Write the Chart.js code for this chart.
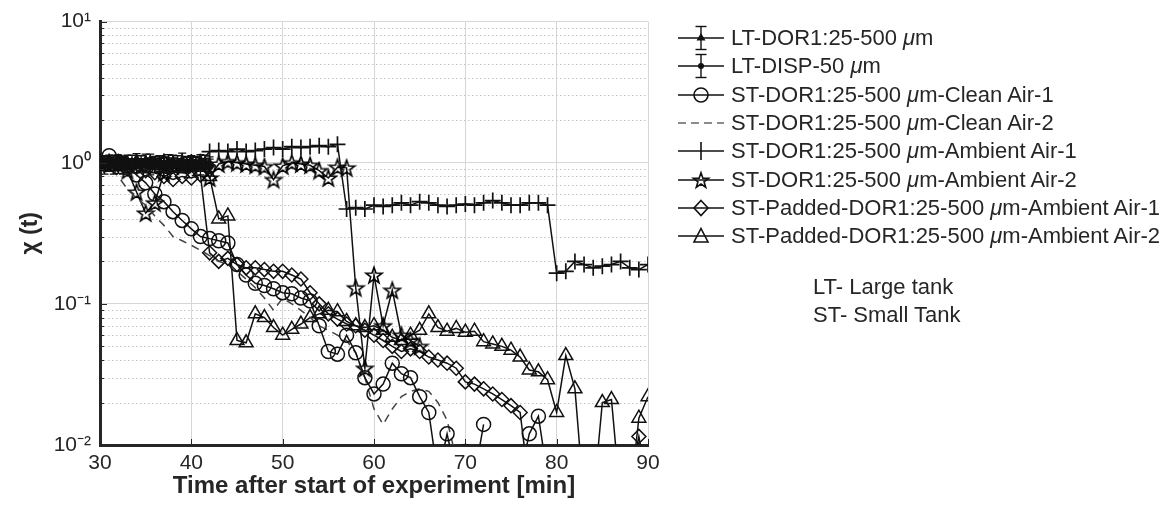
<!DOCTYPE html>
<html><head><meta charset="utf-8">
<script src="https://cdn.jsdelivr.net/npm/chart.js@4.4.0/dist/chart.umd.min.js"></script>
<style>
html,body{margin:0;padding:0;background:#fff;}
#wrap{position:relative;width:1170px;height:519px;overflow:hidden;}
#c{position:absolute;left:0;top:0;}
#legend{position:absolute;left:676px;top:24px;font-family:"Liberation Sans",Arial,sans-serif;font-size:22px;color:#262626;}
.row{height:28.3px;display:flex;align-items:center;white-space:nowrap;}
.row svg{width:52px;height:28px;flex:none;margin-right:3px;}
.note{position:absolute;left:813px;font-family:"Liberation Sans",Arial,sans-serif;font-size:22px;color:#262626;line-height:26px;white-space:nowrap;}
</style>
</head><body>
<div id="wrap">
<canvas id="c" width="1170" height="519"></canvas>
<div id="legend"></div>
<div class="note" style="top:274px">LT- Large tank</div>
<div class="note" style="top:302px">ST- Small Tank</div>
</div>
<script>
// ---------- data ----------
const minutes = [30,31,32,33,34,35,36,37,38,39,40,41,42,43,44,45,46,47,48,49,50,51,52,53,54,55,56,57,58,59,60,61,62,63,64,65,66,67,68,69,70,71,72,73,74,75,76,77,78,79,80,81,82,83,84,85,86,87,88,89,90];

const ltTimes = [30,30.5,31,31.5,32,32.5,33,33.5,34,34.5,35,35.5,36,36.5,37,37.5,38,38.5,39,39.5,40,40.5,41,41.5,42];
const ltDor = [1.0,0.97,1.03,0.98,1.01,0.96,1.02,0.99,1.04,0.97,1.0,1.03,0.98,1.01,0.95,1.02,1.0,0.97,1.03,0.99,1.01,0.96,1.02,1.0,0.98];
const ltDorErr = [0.12,0.14,0.1,0.15,0.12,0.13,0.11,0.14,0.12,0.1,0.15,0.12,0.13,0.11,0.14,0.12,0.13,0.1,0.14,0.12,0.11,0.15,0.12,0.13,0.12];
const ltDisp = [0.98,1.0,0.96,0.99,0.97,1.01,0.95,0.98,0.96,1.0,0.97,0.95,0.99,0.96,0.98,0.94,0.97,0.99,0.95,0.97,0.96,0.98,0.94,0.97,0.95];
const ltDispErr = [0.1,0.12,0.09,0.11,0.13,0.1,0.12,0.09,0.11,0.12,0.1,0.13,0.09,0.11,0.12,0.1,0.11,0.13,0.1,0.12,0.09,0.11,0.12,0.1,0.11];

const cleanAir1 = [1.0,1.12,1.02,0.95,0.82,0.72,0.6,0.53,0.45,0.39,0.34,0.3,0.29,0.28,0.27,0.19,0.16,0.14,0.135,0.128,0.12,0.118,0.11,0.105,0.07,0.046,0.044,0.06,0.045,0.03,0.023,0.027,0.038,0.032,0.03,0.022,0.017,0.006,0.012,0.006,0.009,0.006,0.014,null,null,null,0.006,0.012,0.016,0.006,null,null,null,null,null,null,null,null,null,null,null];
const cleanAir2 = [1.0,0.95,0.8,0.65,0.56,0.5,0.42,0.36,0.3,0.28,0.26,0.24,0.22,0.2,0.19,0.17,0.15,0.13,0.11,0.09,0.11,0.1,0.09,0.08,0.07,0.065,0.06,0.055,0.045,0.03,0.018,0.014,0.018,0.022,0.024,0.025,0.024,0.02,0.015,0.008,null,null,null,null,null,null,null,null,null,null,null,null,null,null,null,null,null,null,null,null,null];
const ambientAir1 = [1.0,1.02,0.98,1.0,1.03,1.0,0.98,1.02,1.0,1.03,1.01,1.0,1.2,1.22,1.2,1.25,1.2,1.22,1.25,1.28,1.25,1.3,1.28,1.3,1.32,1.3,1.35,0.47,0.48,0.47,0.5,0.49,0.5,0.52,0.5,0.53,0.52,0.5,0.49,0.5,0.51,0.5,0.52,0.54,0.52,0.5,0.5,0.52,0.52,0.5,0.165,0.17,0.2,0.19,0.18,0.185,0.19,0.2,0.18,0.175,0.19];
const ambientAir2 = [1.0,0.98,0.97,0.88,0.62,0.44,0.52,0.85,0.95,0.98,0.96,1.0,0.78,0.98,1.02,1.0,0.98,0.96,0.94,0.76,0.95,1.0,0.98,0.96,0.88,0.78,0.93,0.92,0.13,0.035,0.16,0.07,0.125,0.06,0.055,0.05,null,null,null,null,null,null,null,null,null,null,null,null,null,null,null,null,null,null,null,null,null,null,null,null,null];
const paddedAir1 = [1.0,1.0,0.97,0.95,0.93,0.88,0.85,0.8,0.76,0.8,0.78,0.82,0.23,0.2,0.21,0.19,0.18,0.18,0.175,0.17,0.17,0.16,0.15,0.12,0.1,0.085,0.078,0.072,0.07,0.065,0.06,0.055,0.05,0.046,0.048,0.046,0.042,0.04,0.038,0.035,0.028,0.027,0.025,0.023,0.021,0.019,0.017,0.005,null,null,null,null,null,null,null,null,null,null,0.005,0.0115,0.005];
const paddedAir2 = [1.0,0.98,1.0,0.97,1.0,0.98,0.96,1.0,0.97,0.95,0.98,0.96,0.8,0.4,0.42,0.055,0.053,0.085,0.08,0.068,0.06,0.066,0.072,0.08,0.085,0.09,0.088,0.075,0.07,0.068,0.07,0.065,0.058,0.055,0.06,0.065,0.085,0.068,0.064,0.067,0.063,0.064,0.054,0.052,0.05,0.047,0.042,0.034,0.033,0.029,0.017,0.043,0.025,0.004,0.004,0.02,0.021,0.004,0.004,0.0155,0.022];

const yMajorTicks = [0.01,0.1,1,10];
const yTickLabels = ['10\u207B\u00B2','10\u207B\u00B9','10\u2070','10\u00B9'];
const yMinorTicks = [0.02,0.03,0.04,0.05,0.06,0.07,0.08,0.09,0.2,0.3,0.4,0.5,0.6,0.7,0.8,0.9,2,3,4,5,6,7,8,9];
const xTicks = [30,40,50,60,70,80,90];

const legendLabels = [
  'LT-DOR1:25-500 <i>\u03BC</i>m',
  'LT-DISP-50 <i>\u03BC</i>m',
  'ST-DOR1:25-500 <i>\u03BC</i>m-Clean Air-1',
  'ST-DOR1:25-500 <i>\u03BC</i>m-Clean Air-2',
  'ST-DOR1:25-500 <i>\u03BC</i>m-Ambient Air-1',
  'ST-DOR1:25-500 <i>\u03BC</i>m-Ambient Air-2',
  'ST-Padded-DOR1:25-500 <i>\u03BC</i>m-Ambient Air-1',
  'ST-Padded-DOR1:25-500 <i>\u03BC</i>m-Ambient Air-2'
];

// ---------- helpers ----------
const FONT = '"Liberation Sans", Arial, sans-serif';
const pts = (xs, ys) => xs.map((t, i) => ({x: t, y: ys[i]}));

function starPoints(cx, cy, R) {
  const r = R * 0.40, out = [];
  for (let k = 0; k < 10; k++) {
    const a = -Math.PI / 2 + k * Math.PI / 5;
    const rr = k % 2 === 0 ? R : r;
    out.push([cx + rr * Math.cos(a), cy + rr * Math.sin(a)]);
  }
  return out;
}
const starCanvas = document.createElement('canvas');
starCanvas.width = 20; starCanvas.height = 20;
(function () {
  const g = starCanvas.getContext('2d');
  g.strokeStyle = '#000'; g.lineWidth = 1.6; g.lineJoin = 'miter';
  g.beginPath();
  starPoints(10, 10.8, 8.5).forEach((p, i) => i ? g.lineTo(p[0], p[1]) : g.moveTo(p[0], p[1]));
  g.closePath(); g.stroke();
})();

const base = {
  borderColor: '#111', borderWidth: 1.5, pointBorderColor: '#111',
  pointBackgroundColor: 'rgba(0,0,0,0)', pointBorderWidth: 1.5,
  tension: 0, spanGaps: false, fill: false
};

const datasets = [
  Object.assign({}, base, {label: 'LT-DOR1', data: pts(ltTimes, ltDor), pointStyle: 'triangle', pointRadius: 5, pointBackgroundColor: '#111'}),
  Object.assign({}, base, {label: 'LT-DISP', data: pts(ltTimes, ltDisp), pointStyle: 'circle', pointRadius: 3.5, pointBackgroundColor: '#111'}),
  Object.assign({}, base, {label: 'Clean Air-1', data: pts(minutes, cleanAir1), pointStyle: 'circle', pointRadius: 7}),
  Object.assign({}, base, {label: 'Clean Air-2', data: pts(minutes, cleanAir2), borderColor: '#444', borderWidth: 1.5, borderDash: [8, 6], pointRadius: 0}),
  Object.assign({}, base, {label: 'Ambient Air-1', data: pts(minutes, ambientAir1), pointStyle: 'cross', pointRadius: 8, pointBorderWidth: 1.7}),
  Object.assign({}, base, {label: 'Ambient Air-2', data: pts(minutes, ambientAir2), pointStyle: starCanvas, pointRadius: 8}),
  Object.assign({}, base, {label: 'Padded Air-1', data: pts(minutes, paddedAir1), pointStyle: 'rectRot', pointRadius: 7}),
  Object.assign({}, base, {label: 'Padded Air-2', data: pts(minutes, paddedAir2), pointStyle: 'triangle', pointRadius: 8})
];

const extras = {
  id: 'extras',
  beforeDatasetsDraw(chart) {
    const {ctx, chartArea: a, scales: {x, y}} = chart;
    ctx.save();
    ctx.strokeStyle = '#c4c4c4'; ctx.lineWidth = 1; ctx.setLineDash([1.5, 2.5]);
    yMinorTicks.forEach(v => {
      const py = Math.round(y.getPixelForValue(v)) + 0.5;
      ctx.beginPath(); ctx.moveTo(a.left, py); ctx.lineTo(a.right, py); ctx.stroke();
    });
    ctx.restore();
  },
  afterDatasetsDraw(chart) {
    const {ctx, chartArea: a, scales: {x, y}} = chart;
    ctx.save();
    ctx.beginPath(); ctx.rect(a.left, a.top, a.right - a.left, a.bottom - a.top); ctx.clip();
    ctx.strokeStyle = '#111'; ctx.lineWidth = 1.4;
    [[ltDor, ltDorErr], [ltDisp, ltDispErr]].forEach(([vals, errs]) => {
      ltTimes.forEach((t, i) => {
        const px = x.getPixelForValue(t);
        const y1 = y.getPixelForValue(vals[i] + errs[i]);
        const y2 = y.getPixelForValue(vals[i] - errs[i]);
        ctx.beginPath();
        ctx.moveTo(px, y1); ctx.lineTo(px, y2);
        ctx.moveTo(px - 4, y1); ctx.lineTo(px + 4, y1);
        ctx.moveTo(px - 4, y2); ctx.lineTo(px + 4, y2);
        ctx.stroke();
      });
    });
    ctx.restore();
    // inward tick marks
    ctx.save();
    ctx.strokeStyle = '#262626'; ctx.lineWidth = 1;
    yMinorTicks.forEach(v => {
      const py = Math.round(y.getPixelForValue(v)) + 0.5;
      ctx.beginPath(); ctx.moveTo(a.left, py); ctx.lineTo(a.left + 4, py); ctx.stroke();
    });
    yMajorTicks.forEach(v => {
      const py = Math.round(y.getPixelForValue(v)) + 0.5;
      ctx.beginPath(); ctx.moveTo(a.left, py); ctx.lineTo(a.left + 7, py); ctx.stroke();
    });
    xTicks.forEach(t => {
      const px = Math.round(x.getPixelForValue(t)) + 0.5;
      ctx.beginPath(); ctx.moveTo(px, a.bottom); ctx.lineTo(px, a.bottom - 6); ctx.stroke();
    });
    ctx.restore();
  }
};

new Chart(document.getElementById('c'), {
  type: 'line',
  data: {datasets},
  plugins: [extras],
  options: {
    responsive: false, animation: false, devicePixelRatio: 1,
    layout: {padding: {top: 20, right: 522, left: 0, bottom: 0}},
    plugins: {legend: {display: false}, tooltip: {enabled: false}},
    scales: {
      x: {
        type: 'linear', min: 30, max: 90,
        afterBuildTicks: s => { s.ticks = xTicks.map(v => ({value: v})); },
        afterFit: s => { s.height = 74; },
        grid: {color: '#d6d6d6', lineWidth: 1, drawTicks: false},
        border: {color: '#262626', width: 3},
        ticks: {color: '#262626', font: {family: FONT, size: 21}, padding: 6, maxRotation: 0},
        title: {display: true, text: 'Time after start of experiment [min]', color: '#262626',
                font: {family: FONT, size: 24, weight: 'bold'}, padding: {top: 2, bottom: 18}}
      },
      y: {
        type: 'logarithmic', min: 0.01, max: 10,
        afterBuildTicks: s => { s.ticks = yMajorTicks.map(v => ({value: v})); },
        afterFit: s => { s.width = 100; },
        grid: {color: '#d6d6d6', lineWidth: 1, drawTicks: false},
        border: {color: '#262626', width: 3},
        ticks: {color: '#262626', font: {family: FONT, size: 21}, padding: 9,
                callback: v => { const i = yMajorTicks.indexOf(v); return i >= 0 ? yTickLabels[i] : ''; }},
        title: {display: true, text: '\u03C7 (t)', color: '#262626',
                font: {family: FONT, size: 23, weight: 'bold'}, padding: {top: 17, bottom: 0}}
      }
    }
  }
});

// ---------- HTML legend ----------
function sym(i) {
  const L = '<line x1="2" y1="14" x2="48" y2="14" stroke="#111" stroke-width="1.6"/>';
  const eb = '<line x1="25" y1="2.5" x2="25" y2="25.5" stroke="#111" stroke-width="1.4"/><line x1="19.5" y1="2.5" x2="30.5" y2="2.5" stroke="#111" stroke-width="1.4"/><line x1="19.5" y1="25.5" x2="30.5" y2="25.5" stroke="#111" stroke-width="1.4"/>';
  switch (i) {
    case 0: return L + eb + '<polygon points="25,9 29.5,16.5 20.5,16.5" fill="#111"/>';
    case 1: return L + eb + '<circle cx="25" cy="14" r="3" fill="#111"/>';
    case 2: return L + '<circle cx="25" cy="14" r="7" fill="none" stroke="#111" stroke-width="1.6"/>';
    case 3: return '<line x1="2" y1="14" x2="48" y2="14" stroke="#666" stroke-width="1.6" stroke-dasharray="8,5"/>';
    case 4: return L + '<line x1="25" y1="5" x2="25" y2="23" stroke="#111" stroke-width="1.6"/>';
    case 5: return L + '<polygon points="' + starPoints(25, 14.8, 8).map(p => p.join(',')).join(' ') + '" fill="none" stroke="#111" stroke-width="1.6"/>';
    case 6: return L + '<polygon points="25,6.5 32,14 25,21.5 18,14" fill="none" stroke="#111" stroke-width="1.6"/>';
    case 7: return L + '<polygon points="25,6.5 32,20 18,20" fill="none" stroke="#111" stroke-width="1.6"/>';
  }
}
document.getElementById('legend').innerHTML = legendLabels.map((t, i) =>
  '<div class="row"><svg viewBox="0 0 52 28">' + sym(i) + '</svg><span>' + t + '</span></div>').join('');
</script>
</body></html>
